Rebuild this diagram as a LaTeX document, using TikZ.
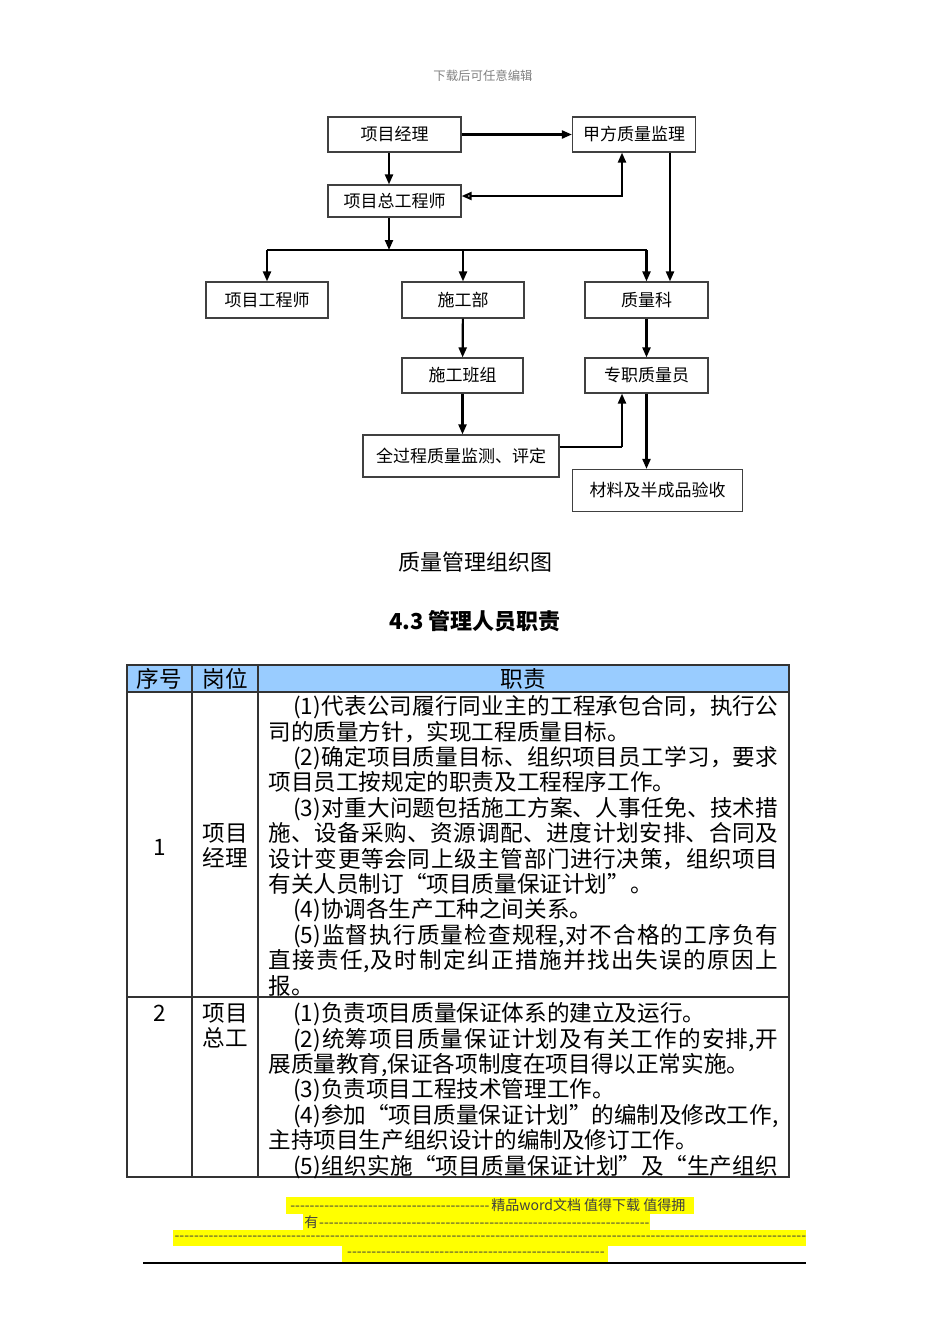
\documentclass[tikz,border=0pt]{standalone}
\usepackage{fontspec}
\setmainfont{Noto Sans CJK SC}
\usetikzlibrary{arrows.meta}
\XeTeXlinebreaklocale "zh"
\XeTeXlinebreakskip=0pt plus 2pt minus 0.2pt
\definecolor{headblue}{RGB}{153,204,255}
\definecolor{marker}{RGB}{255,255,0}
\newcommand{\dashfill}[1]{\makebox[#1]{\cleaders\hbox{-}\hfill}}
\newcommand{\cellfont}{\fontsize{11.3pt}{12.7pt}\selectfont}

\begin{document}
\begin{tikzpicture}[x=0.5pt, y=-0.5pt,
    every node/.style={font=\cellfont},
    box/.style={draw=black!75, line width=0.6pt, inner sep=0pt, font=\fontsize{8.5pt}{10pt}\selectfont},
    arr/.style={line width=1.1pt, -{Triangle[length=5pt,width=4pt]}},
    bus/.style={line width=0.6pt},
    grid/.style={draw=black!80, line width=0.7pt},
    cell/.style={anchor=base west, inner sep=0pt, text width=255pt, align=justify},
    foot/.style={anchor=west, inner sep=0pt, text=black!75, font=\fontsize{7pt}{8pt}\selectfont}]
    \useasboundingbox (0,0) rectangle (950,1344);
    \node[gray, font=\fontsize{6.2pt}{7pt}\selectfont] (note) at (483,76) {下载后可任意编辑};

    \node[box, minimum width=66.5pt, minimum height=17.5pt] (pm) at (394.5,134.5) {项目经理};
    \node[box, minimum width=61.5pt, minimum height=17.5pt] (owner) at (634,134.5) {甲方质量监理};
    \node[box, minimum width=66.5pt, minimum height=16pt] (chief) at (394.5,201) {项目总工程师};
    \node[box, minimum width=61pt, minimum height=18pt] (eng) at (267,300) {项目工程师};
    \node[box, minimum width=61pt, minimum height=18pt] (cons) at (463,300) {施工部};
    \node[box, minimum width=61.5pt, minimum height=18pt] (qd) at (646.5,300) {质量科};
    \node[box, minimum width=60.5pt, minimum height=17.5pt] (team) at (462.5,375.5) {施工班组};
    \node[box, minimum width=61.5pt, minimum height=17.5pt] (insp) at (646.5,375.5) {专职质量员};
    \node[box, minimum width=98pt, minimum height=21pt] (mon) at (461,456) {全过程质量监测、评定};
    \node[box, minimum width=85pt, minimum height=21pt] (mat) at (657.5,490.5) {材料及半成品验收};

    \draw[arr] (pm) -- (owner);
    \draw[arr] ([xshift=-2.75pt]pm.south) -- ([xshift=-2.75pt]chief.north);
    \draw[arr, {Triangle[open,length=5pt,width=4pt]}-{Triangle[length=5pt,width=4pt]}] ([yshift=2.5pt]chief.east) -| ([xshift=-6pt]owner.south);
    \coordinate (fork) at (389,250);
    \draw[arr] ([xshift=-2.75pt]chief.south) -- (fork);
    \draw[bus] (eng.north |- fork) -- (qd.north |- fork);
    \foreach \n in {eng, cons, qd}
        \draw[arr] (\n.north |- fork) -- (\n.north);
    \draw[arr] ([xshift=18pt]owner.south) -- ([xshift=18pt]owner.south |- qd.north);
    \draw[arr] (cons) -- (team);
    \draw[arr] (team.south) -- (team.south |- mon.north);
    \draw[arr] (qd) -- (insp);
    \coordinate (up) at ([xshift=-12.25pt]insp.south);
    \coordinate (out) at ([yshift=4.5pt]mon.east);
    \draw[bus] (out) -- (out -| up);
    \draw[arr] (out -| up) -- (up);
    \draw[arr] (insp.south) -- (insp.south |- mat.north);

    \node[font=\fontsize{11pt}{13pt}\selectfont] (caption) at (475,562) {质量管理组织图};
    \node[font=\fontsize{11pt}{13pt}\selectfont\bfseries] (section) at (475,621) {4.3 管理人员职责};

    \fill[headblue] (127,665) rectangle (789,692);
    \draw[grid] (127,665) rectangle (789,1177);
    \draw[grid] (127,692) -- (789,692) (127,997) -- (789,997) (192,665) -- (192,1177) (258,665) -- (258,1177);
    \node (hnum) at (159.5,679) {序号};
    \node (hpost) at (225,679) {岗位};
    \node (hduty) at (523.5,679) {职责};

    \node (num1) at (159.5,847) {1};
    \node[align=center] (post1) at (225,845.5) {项目\\经理};
    \node[cell] (duty1) at (268,714.6) {\hspace*{1.1em}(1)代表公司履行同业主的工程承包合同，执行公\linebreak 司的质量方针，实现工程质量目标。\par
        \hspace*{1.1em}(2)确定项目质量目标、组织项目员工学习，要求\linebreak 项目员工按规定的职责及工程程序工作。\par
        \hspace*{1.1em}(3)对重大问题包括施工方案、人事任免、技术措\linebreak 施、设备采购、资源调配、进度计划安排、合同及\linebreak 设计变更等会同上级主管部门进行决策，组织项目\linebreak 有关人员制订“项目质量保证计划”。\par
        \hspace*{1.1em}(4)协调各生产工种之间关系。\par
        \hspace*{1.1em}(5)监督执行质量检查规程,对不合格的工序负有\linebreak 直接责任,及时制定纠正措施并找出失误的原因上\linebreak 报。\par};

    \node (num2) at (159.5,1013) {2};
    \node[align=center] (post2) at (225,1025.5) {项目\\总工};
    \node[cell] (duty2) at (268,1021.6) {\hspace*{1.1em}(1)负责项目质量保证体系的建立及运行。\par
        \hspace*{1.1em}(2)统筹项目质量保证计划及有关工作的安排,开\linebreak 展质量教育,保证各项制度在项目得以正常实施。\par
        \hspace*{1.1em}(3)负责项目工程技术管理工作。\par
        \hspace*{1.1em}(4)参加“项目质量保证计划”的编制及修改工作,\linebreak 主持项目生产组织设计的编制及修订工作。\par
        \hspace*{1.1em}(5)组织实施“项目质量保证计划”及“生产组织\parfillskip=0pt\par};

    \fill[marker] (286,1197) rectangle (694,1214);
    \fill[marker] (303,1214) rectangle (650,1230);
    \fill[marker] (173,1230) rectangle (806,1246);
    \fill[marker] (342,1246) rectangle (608,1262);
    \node[foot] (foot1) at (288,1205.5) {\dashfill{101.5pt}精品word文档 值得下载 值得拥};
    \node[foot] (foot2) at (304,1222) {有\dashfill{166pt}};
    \node[foot] (foot3) at (174,1238) {\dashfill{316pt}};
    \node[foot] (foot4) at (345,1254) {\dashfill{130.5pt}};
    \draw[line width=0.8pt] (143,1263) -- (806,1263);
\end{tikzpicture}
\end{document}
